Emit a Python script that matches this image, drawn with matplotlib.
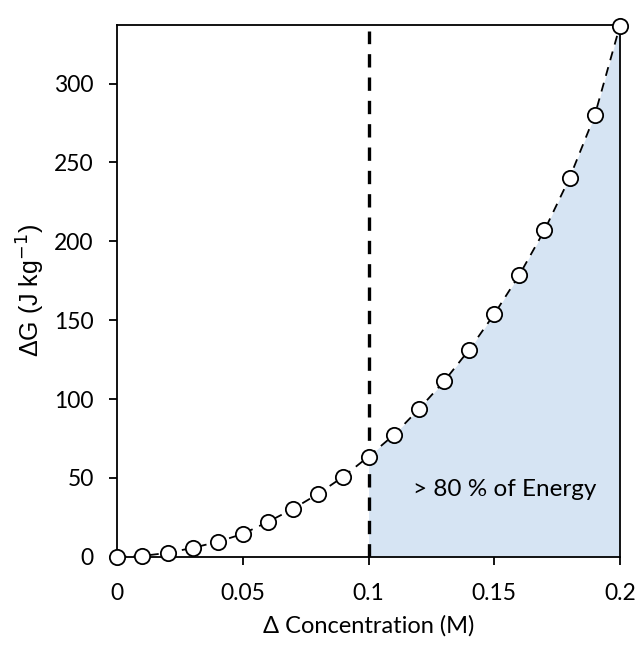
import numpy as np
import matplotlib.pyplot as plt

# data
conc = [0, 0.01, 0.02, 0.03, 0.04, 0.05, 0.06, 0.07, 0.08, 0.09, 0.10,
        0.11, 0.12, 0.13, 0.14, 0.15, 0.16, 0.17, 0.18, 0.19, 0.20]
dG = [0, 0.6, 2.5, 5.7, 9.5, 14.6, 22.2, 30.5, 40.0, 50.9, 63.6,
      77.2, 93.6, 111.2, 131.2, 153.8, 178.7, 207.0, 240.2, 279.8, 336.5]
cutoff = 0.1
x_ticks = [0, 0.05, 0.1, 0.15, 0.2]
x_tick_labels = ['0', '0.05', '0.1', '0.15', '0.2']
y_ticks = [0, 50, 100, 150, 200, 250, 300]

plt.rcParams['font.family'] = ['Lato', 'DejaVu Sans']

fig, ax = plt.subplots(figsize=(6.41, 6.46), dpi=100)
fig.subplots_adjust(left=0.183, right=0.967, top=0.961, bottom=0.138)

conc_arr = np.array(conc)
dG_arr = np.array(dG)
mask = conc_arr >= cutoff
ax.fill_between(conc_arr[mask], 0, dG_arr[mask], color='#d6e4f3', lw=0, zorder=1)

ax.axvline(cutoff, ymin=0, ymax=0.99, color='black', ls=(0, (4, 3)), lw=2.4, zorder=2)

ax.plot(conc, dG, color='black', ls=(0, (5, 4)), lw=1.3, marker='o', ms=11,
        markerfacecolor='white', markeredgecolor='black', markeredgewidth=1.3,
        zorder=3, clip_on=False)

ax.text(0.1175, 43, '> 80 % of Energy', fontsize=17.5, va='center', ha='left', zorder=4)

ax.set_xlim(0, 0.2)
ax.set_ylim(0, 337)
ax.set_xticks(x_ticks)
ax.set_xticklabels(x_tick_labels)
ax.set_yticks(y_ticks)
ax.tick_params(direction='out', length=6, width=1.3, labelsize=16.5)
ax.tick_params(axis='x', pad=13)
ax.tick_params(axis='y', pad=11)
for s in ax.spines.values():
    s.set_linewidth(1.3)

ax.set_xlabel('Δ Concentration (M)', fontsize=17, labelpad=8)
ax.set_ylabel('ΔG (J kg$^{-1}$)', fontsize=18, family=['Liberation Sans', 'DejaVu Sans'], labelpad=5)

plt.savefig('out.png', dpi=100)
